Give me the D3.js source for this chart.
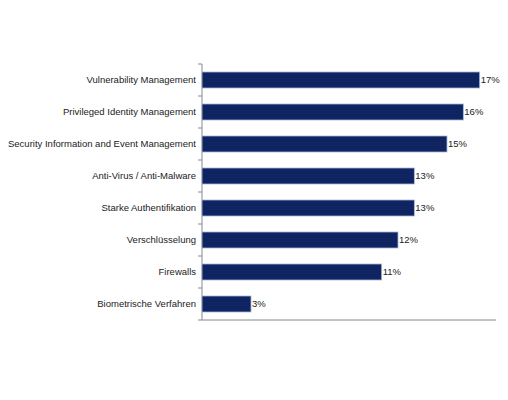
<!DOCTYPE html>
<html><head><meta charset="utf-8">
<script src="https://cdn.jsdelivr.net/npm/d3@7"></script>
<style>body{margin:0;background:#fff}text{font-family:"Liberation Sans",Arial,sans-serif;font-size:9.5px;fill:#222}</style>
</head><body><svg id="chart" width="508" height="400"></svg>
<script>
var categories = ["Vulnerability Management","Privileged Identity Management","Security Information and Event Management","Anti-Virus / Anti-Malware","Starke Authentifikation","Verschlüsselung","Firewalls","Biometrische Verfahren"];
var values = [17,16,15,13,13,12,11,3];

var svg = d3.select("#chart");
var x = d3.scaleLinear().domain([0,18]).range([202,496]);
var y = d3.scaleBand().domain(categories).range([64,320]).paddingInner(0.5).paddingOuter(0.25);

// left axis with ticks between categories
svg.append("line").attr("x1",202).attr("x2",202).attr("y1",64).attr("y2",320).attr("stroke","#888");
d3.range(categories.length+1).forEach(function(i){
  var yy = 64 + i*32;
  svg.append("line").attr("x1",198).attr("x2",202).attr("y1",yy).attr("y2",yy).attr("stroke","#888");
});
svg.append("line").attr("x1",202).attr("x2",x(18)).attr("y1",320).attr("y2",320).attr("stroke","#888");

svg.selectAll("rect.bar").data(values).enter().append("rect")
  .attr("x",x(0)).attr("y",function(d,i){return y(categories[i]);})
  .attr("width",function(d){return x(d)-x(0);}).attr("height",y.bandwidth())
  .attr("fill","#0f2461").attr("stroke","#a9b8d6").attr("stroke-width",0.8);

svg.selectAll("text.lab").data(categories).enter().append("text")
  .attr("x",196).attr("y",function(d){return y(d)+y.bandwidth()/2;})
  .attr("dy","0.35em").attr("text-anchor","end").text(function(d){return d;});

svg.selectAll("text.val").data(values).enter().append("text")
  .attr("x",function(d){return x(d)+1;}).attr("y",function(d,i){return y(categories[i])+y.bandwidth()/2;})
  .attr("dy","0.35em").text(function(d){return d+"%";});
</script></body></html>
